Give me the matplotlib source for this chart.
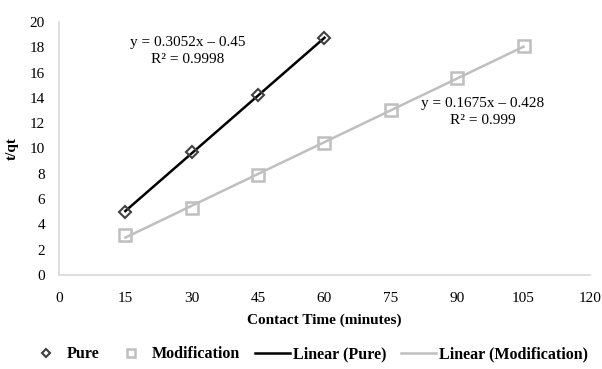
import matplotlib
matplotlib.use("Agg")
import matplotlib.pyplot as plt
import numpy as np

plt.rcParams['font.family'] = ['Liberation Serif', 'DejaVu Serif']

pure_x = [15, 30, 45, 60]
pure_y = [4.98, 9.72, 14.2, 18.7]
mod_x = [15, 30, 45, 60, 75, 90, 105]
mod_y = [3.2, 5.3, 7.9, 10.4, 13.0, 15.6, 18.1]
x_ticks = [0, 15, 30, 45, 60, 75, 90, 105, 120]
y_ticks = [0, 2, 4, 6, 8, 10, 12, 14, 16, 18, 20]
eq_pure = "y = 0.3052x \u2013 0.45\nR\u00b2 = 0.9998"
eq_mod = "y = 0.1675x \u2013 0.428\nR\u00b2 = 0.999"

fig = plt.figure(figsize=(6.02, 3.69), dpi=100)
ax = fig.add_axes([0.098, 0.2547, 0.882, 0.686])

px = np.array(pure_x, float); py = np.array(pure_y, float)
mx = np.array(mod_x, float); my = np.array(mod_y, float)
cp = np.polyfit(px, py, 1)
cm = np.polyfit(mx, my, 1)

lp, = ax.plot(px, np.polyval(cp, px), color='black', lw=1.8, label='Linear (Pure)', zorder=2)
lm, = ax.plot(mx, np.polyval(cm, mx), color='#bfbfbf', lw=1.8, label='Linear (Modification)', zorder=2)
sp, = ax.plot(px, py, ls='none', marker='D', ms=6, mfc='none', mec='#404040', mew=1.5, label='Pure', zorder=3)
sm, = ax.plot(mx, my, ls='none', marker='s', ms=8.5, mfc='none', mec='#bfbfbf', mew=1.8, label='Modification', zorder=3)

ax.set_xlim(0, 120)
ax.set_ylim(0, 20)
ax.set_xticks(x_ticks)
ax.set_yticks(y_ticks)
ax.tick_params(axis='x', length=0, labelsize=11, pad=12)
ax.tick_params(axis='y', length=0, labelsize=11, pad=10)
for s in ['top', 'right']:
    ax.spines[s].set_visible(False)
for s in ['left', 'bottom']:
    ax.spines[s].set_color('#d9d9d9')
    ax.spines[s].set_linewidth(1.2)

ax.set_xlabel('Contact Time (minutes)', fontsize=11, fontweight='bold', labelpad=6)
ax.set_ylabel('t/qt', fontsize=11, fontweight='bold', labelpad=8)

ax.text(29.0, 17.7, eq_pure, ha='center', va='center', fontsize=11, linespacing=1.4)
ax.text(95.8, 12.9, eq_mod, ha='center', va='center', fontsize=11, linespacing=1.4)

fig.legend(handles=[sp, sm, lp, lm], loc='center', bbox_to_anchor=(0.512, 0.04), ncol=4,
           frameon=False, prop={'weight': 'bold', 'size': 11.5}, handlelength=2.2,
           columnspacing=0.9, handletextpad=0.2, markerscale=0.75)

fig.savefig('out.png', dpi=100)
